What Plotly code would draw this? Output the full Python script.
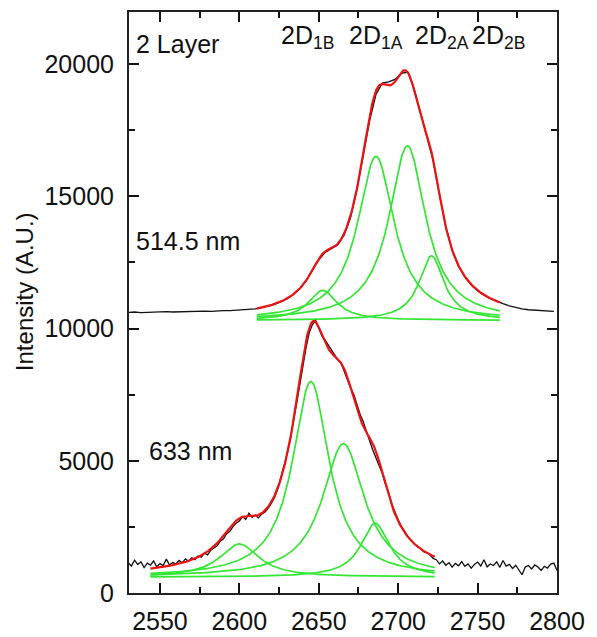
import numpy as np
import plotly.graph_objects as go

# ---------------- data ----------------
# measured spectrum, 514.5 nm excitation (offset upward in the figure)
top_x = list(range(2530, 2800, 4))
top_y = [10610, 10625, 10600, 10615, 10630, 10620, 10640, 10625, 10635, 10650,
         10640, 10655, 10660, 10650, 10670, 10680, 10675, 10695, 10705, 10720,
         10745, 10790, 10840, 10910, 11005, 11120, 11285, 11500, 11800, 12190,
         12600, 12880, 13010, 13170, 13540, 14200, 15230, 16520, 17850, 18850,
         19280, 19330, 19420, 19650, 19700, 19080, 18150, 17300, 16350, 15050,
         13850, 12950, 12360, 11950, 11650, 11430, 11260, 11130, 11020, 10940,
         10860, 10790, 10740, 10710, 10690, 10680, 10665, 10650]

# measured spectrum, 633 nm excitation
bot_x = list(range(2530, 2801, 2))
bot_y = [1150, 1020, 1240, 1080, 1180, 960, 1130, 1050, 1210, 990,
         1110, 1040, 1280, 1060, 1150, 1100, 1230, 1140, 1290, 1200,
         1330, 1260, 1400, 1350, 1510, 1440, 1620, 1700, 1790, 1960,
         2050, 2240, 2330, 2510, 2640, 2720, 2890, 2780, 3020, 2860,
         2950, 2840, 2980, 3050, 3190, 3380, 3590, 3900, 4350, 4720,
         5240, 5780, 6420, 7150, 7860, 8650, 9280, 9850, 10150, 10300,
         9980, 9720, 9560, 9380, 9190, 9050, 8820, 8700, 8380, 8090,
         7760, 7520, 7090, 6760, 6480, 6090, 5760, 5410, 5100, 4790,
         4520, 4110, 3780, 3360, 3050, 2760, 2520, 2310, 2140, 1980,
         1860, 1750, 1690, 1560, 1520, 1440, 1310, 1260, 1100, 1210,
         1050, 1150, 980, 1120, 1030, 1190, 1010, 1100, 940, 1080,
         1170, 1020, 1260, 990, 1100, 1040, 1180, 970, 1230, 1020,
         1080, 930, 1050, 880, 690, 980, 1040, 910, 1060, 980,
         850, 1010, 940, 1090, 1130, 850]

# Lorentzian fit components (2D1B, 2D1A, 2D2A, 2D2B): centre, height, half width
top_centers = [2652.5, 2686.0, 2705.8, 2721.0]
top_heights = [1134, 6200, 6600, 2440]
top_hwhm = [11.0, 14.0, 14.0, 9.5]
top_offset = 10310
top_fit_range = [2611, 2764]

bot_centers = [2600.0, 2645.0, 2665.5, 2685.5]
bot_heights = [1254, 7400, 5050, 2037]
bot_hwhm = [15.0, 14.0, 16.0, 11.0]
bot_offset = 600
bot_fit_range = [2544, 2723]

peak_labels = ["1B", "1A", "2A", "2B"]

# ---------------- figure ----------------
BLACK = "#111111"
RED = "#ee1111"
GREEN = "#33e633"
FONT = "Liberation Sans, Arial, sans-serif"

fig = go.Figure()


def lorentz(x, c, h, g):
    return h / (1.0 + ((x - c) / g) ** 2)


def add_set(xd, yd, centers, heights, hwhm, offset, rng):
    fig.add_trace(go.Scatter(x=xd, y=yd, mode="lines",
                             line=dict(color=BLACK, width=1.3),
                             showlegend=False, hoverinfo="skip"))
    xf = np.arange(rng[0], rng[1] + 0.25, 0.5)
    total = np.full_like(xf, float(offset))
    for c, h, g in zip(centers, heights, hwhm):
        comp = lorentz(xf, c, h, g)
        total = total + comp
        fig.add_trace(go.Scatter(x=xf, y=comp + offset, mode="lines",
                                 line=dict(color=GREEN, width=1.7),
                                 showlegend=False, hoverinfo="skip"))
    fig.add_trace(go.Scatter(x=xf, y=total, mode="lines",
                             line=dict(color=RED, width=2.2),
                             showlegend=False, hoverinfo="skip"))


add_set(top_x, top_y, top_centers, top_heights, top_hwhm, top_offset, top_fit_range)
add_set(bot_x, bot_y, bot_centers, bot_heights, bot_hwhm, bot_offset, bot_fit_range)

axis_common = dict(
    showline=True, linecolor="#222222", linewidth=2, mirror="allticks",
    ticks="inside", ticklen=10, tickwidth=2, tickcolor="#111111",
    showgrid=False, zeroline=False, tickformat="d",
    tickfont=dict(family=FONT, size=25, color="#111111"),
)

fig.update_xaxes(range=[2530.5, 2800], tick0=2550, dtick=50,
                 minor=dict(ticks="inside", ticklen=6, dtick=25,
                            tickcolor="#111111", tickwidth=1.6),
                 ticklabelstandoff=5,
                 **axis_common)
fig.update_yaxes(range=[0, 21970], tick0=0, dtick=5000,
                 minor=dict(ticks="inside", ticklen=6, dtick=2500,
                            tickcolor="#111111", tickwidth=1.6),
                 ticklabelstandoff=8,
                 **axis_common)

# the page body adds an 8 px offset, so the figure is sized to fit the window
OFF = 8
W, H = 597 - OFF, 637 - OFF
L, R, T, B = 129 - OFF, 557 - OFF, 10 - OFF, 599 - OFF


def px(xp):
    return (xp - OFF - L) / (R - L)


def py(yp):
    return (B - (yp - OFF)) / (B - T)


ann = []
ann.append(dict(text="2 Layer", x=px(134), y=py(42), xanchor="left", yanchor="middle"))
ann.append(dict(text="514.5 nm", x=px(134), y=py(242), xanchor="left", yanchor="middle"))
ann.append(dict(text="633 nm", x=px(147), y=py(455), xanchor="left", yanchor="middle"))
for lab, xl in zip(peak_labels, [279, 347, 413, 470]):
    ann.append(dict(text="2D<sub>" + lab + "</sub>", x=px(xl), y=py(35),
                    xanchor="left", yanchor="middle"))
for a in ann:
    a.update(xref="paper", yref="paper", showarrow=False,
             font=dict(family=FONT, size=25, color="#111111"))
ann.append(dict(text="Intensity (A.U.)", xref="paper", yref="paper",
                x=px(24), y=py(294), xanchor="center", yanchor="middle",
                textangle=-90, showarrow=False,
                font=dict(family=FONT, size=24, color="#111111")))

fig.update_layout(
    width=W, height=H,
    margin=dict(l=L, r=W - R, t=T, b=H - B, pad=0),
    paper_bgcolor="white", plot_bgcolor="white",
    annotations=ann,
    showlegend=False,
)

fig.write_html("out.html")
